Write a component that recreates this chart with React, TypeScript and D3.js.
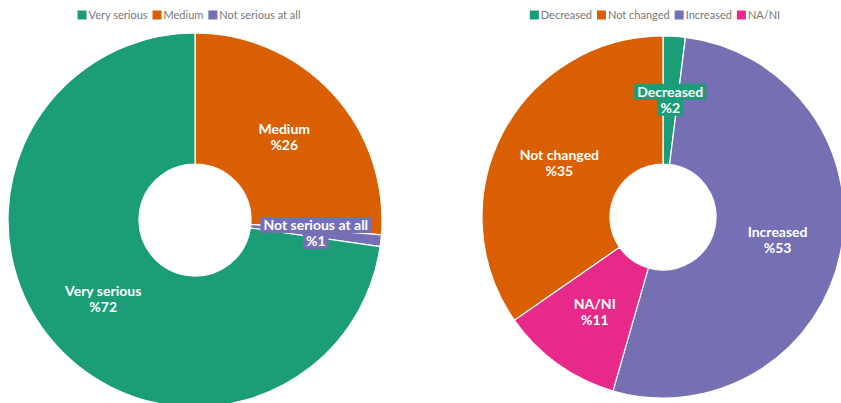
import React, { useEffect, useRef } from "react";
import * as d3 from "d3";

const W = 841;
const H = 403;

// Chart 1: seriousness
const seriousCategories = ["Medium", "Not serious at all", "Very serious"];
const seriousValues = [26, 1, 72];
const seriousLegend = ["Very serious", "Medium", "Not serious at all"];
const seriousColors: Record<string, string> = {
  "Very serious": "#1b9e77",
  Medium: "#d95f02",
  "Not serious at all": "#7570b3",
};

// Chart 2: change
const changeCategories = ["Decreased", "Increased", "NA/NI", "Not changed"];
const changeValues = [2, 53, 11, 35];
const changeLegend = ["Decreased", "Not changed", "Increased", "NA/NI"];
const changeColors: Record<string, string> = {
  Decreased: "#1b9e77",
  "Not changed": "#d95f02",
  Increased: "#7570b3",
  "NA/NI": "#e7298a",
};

const FONT = "Lato, 'Open Sans', sans-serif";
const LABEL_SIZE = 14;

function drawDonut(
  svg: d3.Selection<SVGSVGElement, unknown, null, undefined>,
  cx: number,
  cy: number,
  outer: number,
  inner: number,
  cats: string[],
  vals: number[],
  colors: Record<string, string>,
  legend: string[],
  legendCx: number
) {
  const g = svg.append("g").attr("transform", `translate(${cx},${cy})`);
  const data = cats.map((c, i) => ({ c, v: vals[i] }));
  const pie = d3
    .pie<{ c: string; v: number }>()
    .value((d) => d.v)
    .sort(null);
  const arcs = pie(data);
  const arc = d3
    .arc<d3.PieArcDatum<{ c: string; v: number }>>()
    .innerRadius(inner)
    .outerRadius(outer);
  g.selectAll("path.slice")
    .data(arcs)
    .join("path")
    .attr("class", "slice")
    .attr("d", arc)
    .attr("fill", (d) => colors[d.data.c])
    .attr("stroke", "#fff")
    .attr("stroke-width", 1.2);

  const total = d3.sum(vals);
  arcs.forEach((a) => {
    const [x, y] = arc.centroid(a);
    const lines = [a.data.c, `%${a.data.v}`];
    const small = a.data.v / total < 0.05;
    const lg = g.append("g").attr("transform", `translate(${x},${y})`);
    lines.forEach((t, i) => {
      const ty = (i - 0.5) * 16;
      if (small) {
        const tmp = lg
          .append("text")
          .attr("font-family", FONT)
          .attr("font-weight", 700)
          .attr("font-size", LABEL_SIZE)
          .text(t);
        const w = (tmp.node() as SVGTextElement).getComputedTextLength();
        tmp.remove();
        lg.append("rect")
          .attr("x", -w / 2 - 3)
          .attr("y", ty - 8.5)
          .attr("width", w + 6)
          .attr("height", 16)
          .attr("fill", colors[a.data.c]);
      }
    });
    lines.forEach((t, i) => {
      const ty = (i - 0.5) * 16;
      lg.append("text")
        .attr("y", ty)
        .attr("dy", "0.35em")
        .attr("text-anchor", "middle")
        .attr("font-family", FONT)
        .attr("font-weight", 700)
        .attr("font-size", LABEL_SIZE)
        .attr("fill", "#fff")
        .text(t);
    });
  });

  // legend
  const lgG = svg.append("g");
  let xpos = 0;
  legend.forEach((name) => {
    const ig = lgG.append("g");
    ig.append("rect")
      .attr("x", 0)
      .attr("y", -4.5)
      .attr("width", 9)
      .attr("height", 9)
      .attr("fill", colors[name]);
    const t = ig
      .append("text")
      .attr("x", 11)
      .attr("dy", "0.35em")
      .attr("font-family", FONT)
      .attr("font-size", 11)
      .attr("fill", "#777")
      .text(name);
    const w = 11 + (t.node() as SVGTextElement).getComputedTextLength();
    ig.attr("transform", `translate(${xpos},0)`);
    xpos += w + 5;
  });
  const totalW = xpos - 5;
  lgG.attr("transform", `translate(${legendCx - totalW / 2},15)`);
}

export default function App() {
  const ref = useRef<SVGSVGElement | null>(null);
  useEffect(() => {
    if (!ref.current) return;
    const svg = d3.select(ref.current);
    svg.selectAll("*").remove();
    drawDonut(svg, 195, 220, 187, 56, seriousCategories, seriousValues, seriousColors, seriousLegend, 189);
    drawDonut(svg, 663, 217, 181, 53, changeCategories, changeValues, changeColors, changeLegend, 655);
  }, []);
  return (
    <svg
      ref={ref}
      width={W}
      height={H}
      style={{ position: "absolute", left: 0, top: 0, background: "#fff" }}
    />
  );
}
